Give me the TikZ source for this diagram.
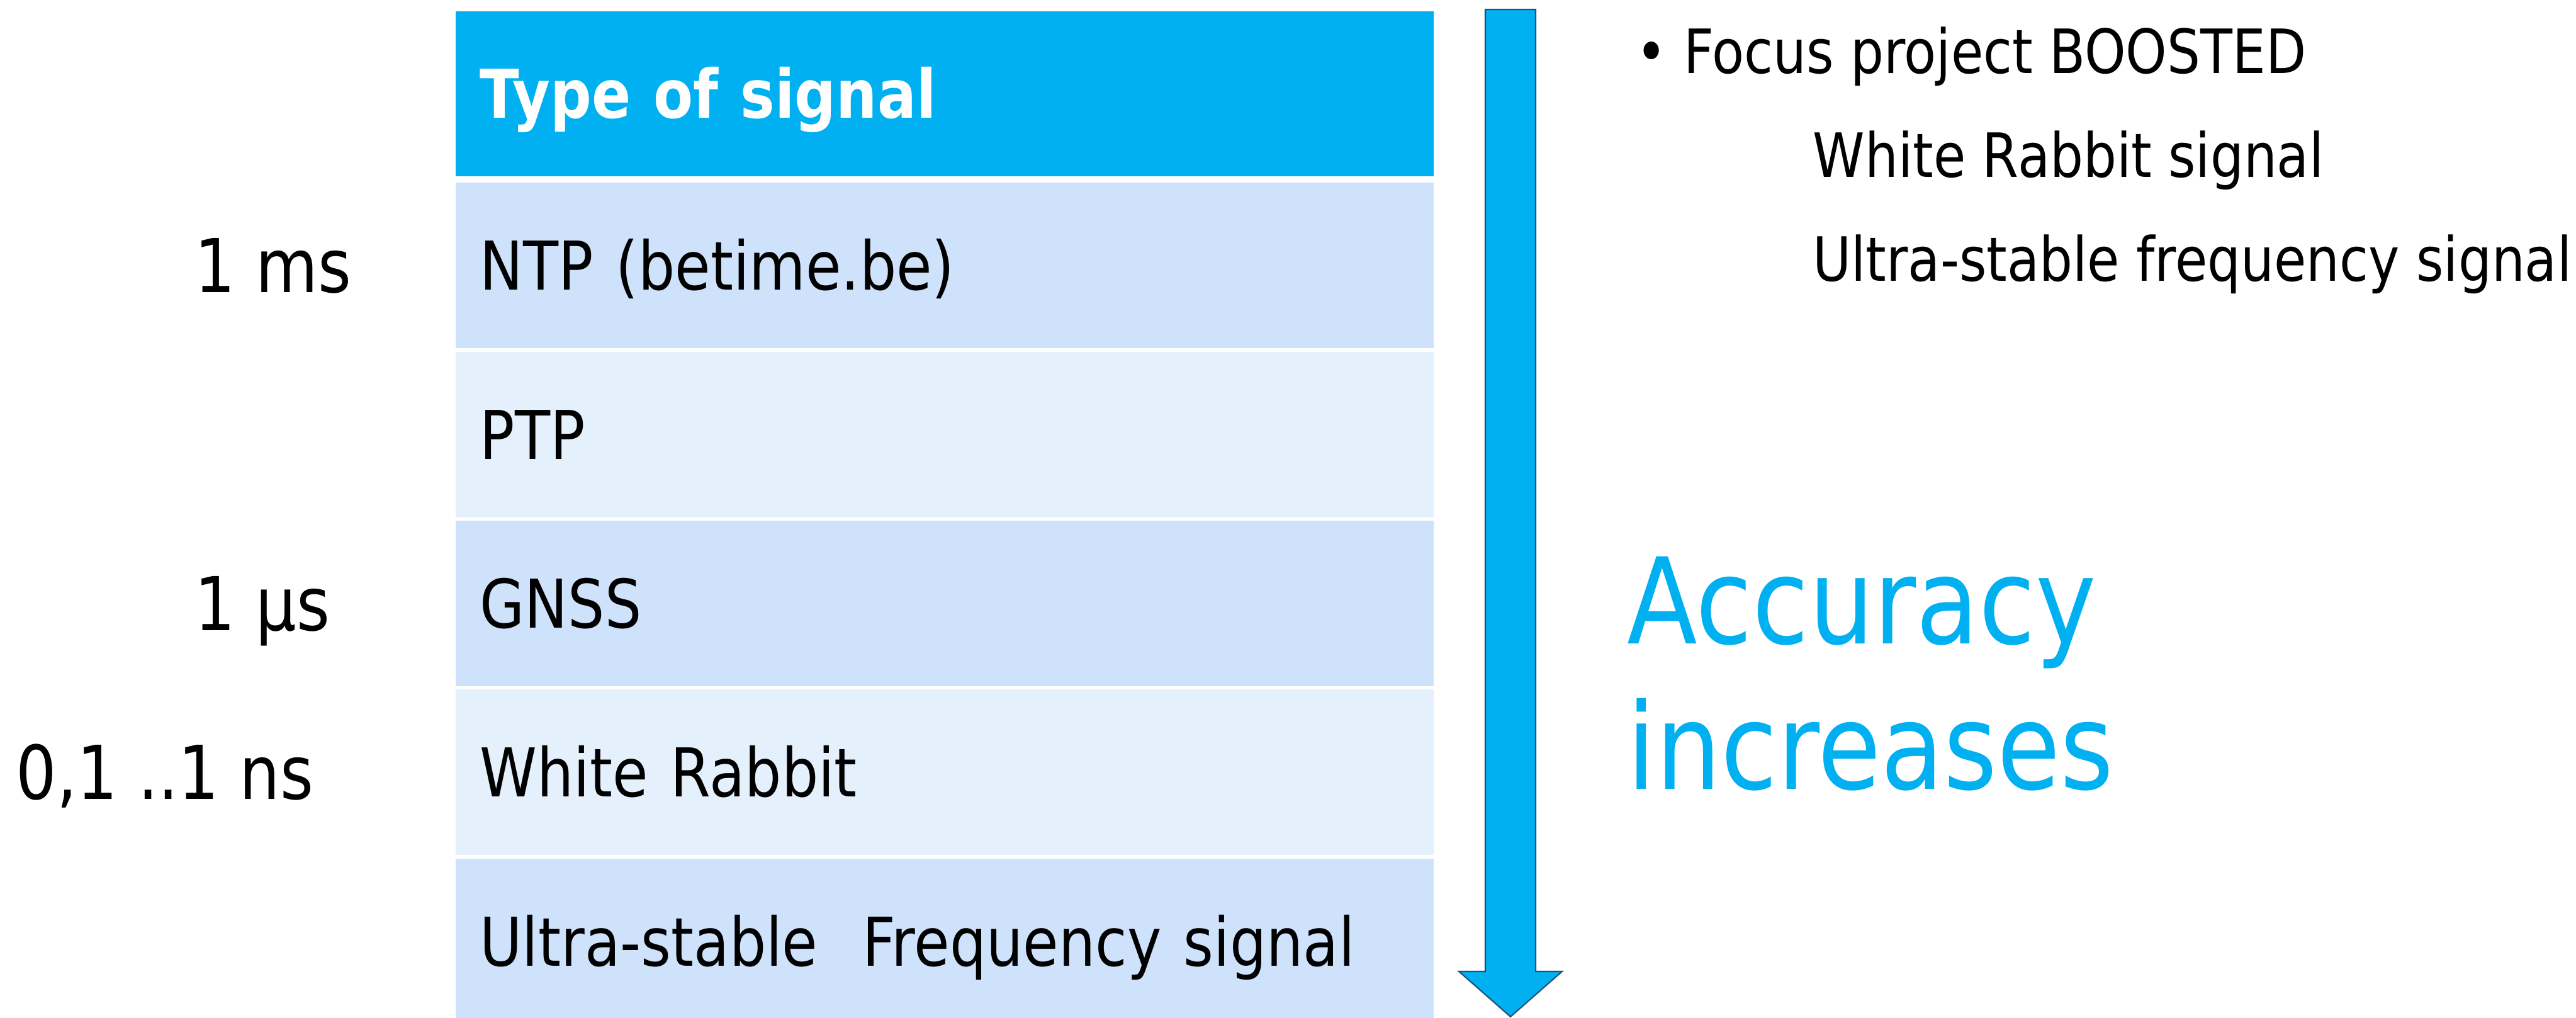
\documentclass[tikz,border=0pt]{standalone}
\usepackage{fontspec}
\setmainfont{DejaVu Sans}[FakeStretch=0.86]
\usetikzlibrary{positioning}
\definecolor{accblue}{RGB}{0,176,240}
\definecolor{rowdark}{RGB}{207,226,252}
\definecolor{rowlight}{RGB}{229,240,253}
\definecolor{arrowline}{RGB}{31,78,121}

\begin{document}
\begin{tikzpicture}[
    sigrow/.style={minimum width=15.54cm, minimum height=2.63cm, text width=14.76cm,
        inner xsep=0.39cm, inner ysep=0pt, align=left, text height=0.78cm, text depth=0pt,
        font=\fontsize{30.4}{36}\selectfont},
    lbl/.style={anchor=west, inner sep=0pt, text height=0.86cm, text depth=0pt,
        font=\fontsize{33.6}{40}\selectfont},
    note/.style={anchor=base west, inner sep=0pt, font=\fontsize{27.6}{33}\selectfont},
    acc/.style={anchor=base west, inner sep=0pt, text=accblue, font=\fontsize{54}{65}\selectfont}
]
        % fix the page size
        \useasboundingbox (0,0) rectangle (40.93,16.16);

        % draw the table rows
        \node[sigrow, fill=accblue, text=white, minimum height=2.62cm, anchor=north west] (hdr) at (7.23,15.99) {\textbf{Type of signal}};
        \node[sigrow, fill=rowdark, below=0.09cm of hdr] (ntp) {NTP (betime.be)};
        \node[sigrow, fill=rowlight, below=0.04cm of ntp] (ptp) {PTP};
        \node[sigrow, fill=rowdark, below=0.04cm of ptp] (gnss) {GNSS};
        \node[sigrow, fill=rowlight, below=0.04cm of gnss] (wr) {White Rabbit};
        \node[sigrow, fill=rowdark, below=0.04cm of wr] (usf) {Ultra-stable\ \ Frequency signal};

        % the accuracy values on the left
        \coordinate (lx) at (3.09,0);
        \coordinate (lxx) at (0.25,0);
        \node[lbl] (ms) at (ntp.west -| lx) {1 ms};
        \node[lbl] (us) at (gnss.west -| lx) {1 µs};
        \node[lbl] (ns) at (wr.west -| lxx) {0,1 ..1 ns};

        % draw the big arrow
        \draw[arrowline, fill=accblue, line width=0.6pt]
            (23.60,16.01) coordinate (tl) -- (24.40,16.01) coordinate (tr)
            -- (24.40,0.73) -- (24.82,0.73) -- (24.00,0.01) coordinate (tip)
            -- (23.18,0.73) -- (23.60,0.73) -- cycle;

        % the text on the right
        \node[note] (foc) at (25.99,14.99) {\textbullet\ Focus project BOOSTED};
        \node[note] (wrs) at (28.80,13.34) {White Rabbit signal};
        \node[note] (uss) at (28.80,11.69) {Ultra-stable frequency signal};
        \node[acc] (acca) at (25.85,5.93) {Accuracy};
        \node[acc] (accb) at ([yshift=-2.30cm]acca.base west) {increases};

\end{tikzpicture}
\end{document}
